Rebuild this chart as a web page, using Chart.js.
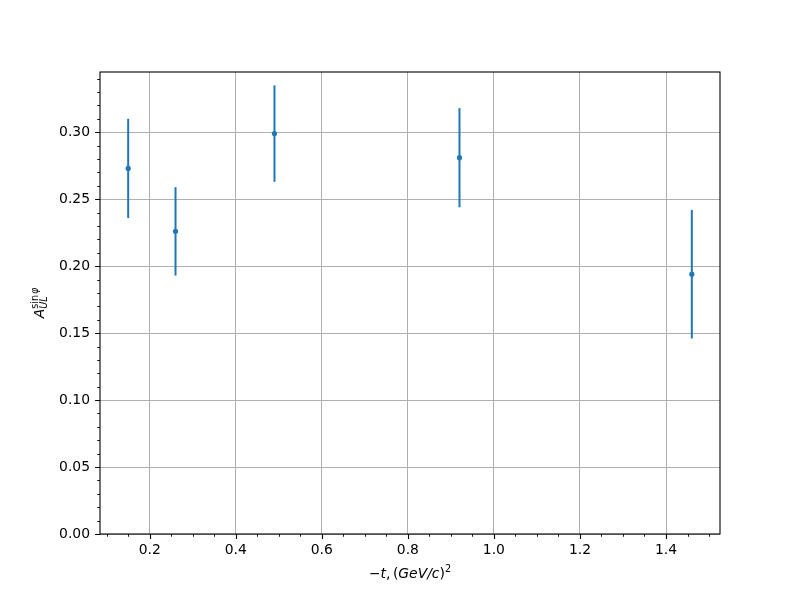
<!DOCTYPE html>
<html>
<head>
<meta charset="utf-8">
<script src="https://cdn.jsdelivr.net/npm/chart.js@4.4.1/dist/chart.umd.min.js"></script>
<style>
  html, body { margin: 0; padding: 0; background: #fff; }
  #wrap { width: 800px; height: 600px; }
</style>
</head>
<body>
<div id="wrap"><canvas id="chart" width="800" height="600"></canvas></div>
<script>
'use strict';

// -t values and asymmetry
const tValues = [0.15, 0.26, 0.49, 0.92, 1.46];
const asymValues = [0.273, 0.226, 0.299, 0.281, 0.194];
const asymErrors = [0.037, 0.033, 0.036, 0.037, 0.048];

const xMajorTicks = [0.2, 0.4, 0.6, 0.8, 1.0, 1.2, 1.4];
const xMinorTicks = [0.1, 0.15, 0.25, 0.3, 0.35, 0.45, 0.5, 0.55, 0.65, 0.7, 0.75,
                     0.85, 0.9, 0.95, 1.05, 1.1, 1.15, 1.25, 1.3, 1.35, 1.45, 1.5];
const yMajorTicks = [0.00, 0.05, 0.10, 0.15, 0.20, 0.25, 0.30];
const yMinorTicks = [0.01, 0.02, 0.03, 0.04, 0.06, 0.07, 0.08, 0.09, 0.11, 0.12, 0.13, 0.14,
                     0.16, 0.17, 0.18, 0.19, 0.21, 0.22, 0.23, 0.24, 0.26, 0.27, 0.28, 0.29,
                     0.31, 0.32, 0.33, 0.34];

const BLUE = '#1f77b4';
const FONT = 'DejaVu Sans';

const points = tValues.map((t, i) => ({ x: t, y: asymValues[i] }));

const errorBars = {
    id: 'errorBars',
    beforeDatasetsDraw(chart) {
        const ctx = chart.ctx;
        const xs = chart.scales.x, ys = chart.scales.y;
        ctx.save();
        ctx.strokeStyle = BLUE;
        ctx.lineWidth = 2;
        tValues.forEach((t, i) => {
            const px = xs.getPixelForValue(t);
            ctx.beginPath();
            ctx.moveTo(px, ys.getPixelForValue(asymValues[i] - asymErrors[i]));
            ctx.lineTo(px, ys.getPixelForValue(asymValues[i] + asymErrors[i]));
            ctx.stroke();
        });
        ctx.restore();
    }
};

// draws a row of text pieces centred on (cx, cy); stacked pieces sit at a fixed x
function drawPieces(ctx, pieces, cx, cy) {
    let width = 0;
    let x = 0;
    pieces.forEach(p => {
        ctx.font = p.font;
        p.w = ctx.measureText(p.text).width;
        if (p.stack !== undefined) { p.x = p.stack; } else { p.x = x; x += p.w + (p.gap || 0); }
        width = Math.max(width, p.x + p.w);
    });
    const start = cx - width / 2;
    pieces.forEach(p => {
        ctx.font = p.font;
        ctx.fillText(p.text, start + p.x, cy + (p.dy || 0));
    });
}

const frameAndLabels = {
    id: 'frameAndLabels',
    afterDraw(chart) {
        const ctx = chart.ctx;
        const a = chart.chartArea;
        const xs = chart.scales.x, ys = chart.scales.y;
        ctx.save();
        ctx.strokeStyle = '#000';
        // ticks
        ctx.lineWidth = 1.1;
        ctx.beginPath();
        xMajorTicks.forEach(v => {
            const p = Math.round(xs.getPixelForValue(v)) + 0.5;
            ctx.moveTo(p, a.bottom); ctx.lineTo(p, a.bottom + 4.9);
        });
        yMajorTicks.forEach(v => {
            const p = Math.round(ys.getPixelForValue(v)) + 0.5;
            ctx.moveTo(a.left, p); ctx.lineTo(a.left - 4.9, p);
        });
        ctx.stroke();
        ctx.lineWidth = 0.9;
        ctx.beginPath();
        xMinorTicks.forEach(v => {
            const p = Math.round(xs.getPixelForValue(v)) + 0.5;
            ctx.moveTo(p, a.bottom); ctx.lineTo(p, a.bottom + 2.8);
        });
        yMinorTicks.forEach(v => {
            const p = Math.round(ys.getPixelForValue(v)) + 0.5;
            ctx.moveTo(a.left, p); ctx.lineTo(a.left - 2.8, p);
        });
        ctx.stroke();
        // frame
        ctx.lineWidth = 1.1;
        ctx.strokeRect(a.left, a.top, a.right - a.left, a.bottom - a.top);

        // x title: −t, (GeV/c)^2
        ctx.fillStyle = '#000';
        ctx.textBaseline = 'alphabetic';
        const reg = '13.9px "' + FONT + '"';
        const ita = 'italic 13.9px "' + FONT + '"';
        const small = '9.7px "' + FONT + '"';
        const smallIta = 'italic 9.7px "' + FONT + '"';
        drawPieces(ctx, [
            { text: '\u2212', font: reg },
            { text: 't', font: ita },
            { text: ',', font: reg, gap: 2.5 },
            { text: '(', font: reg },
            { text: 'GeV/c', font: ita },
            { text: ')', font: reg },
            { text: '2', font: small, dy: -6 }
        ], (a.left + a.right) / 2, 578);

        // y title: A_UL^{sin φ}
        ctx.translate(44, (a.top + a.bottom) / 2);
        ctx.rotate(-Math.PI / 2);
        ctx.font = ita;
        const aw = ctx.measureText('A').width;
        ctx.font = small;
        const sw = ctx.measureText('sin').width;
        drawPieces(ctx, [
            { text: 'A', font: ita },
            { text: 'UL', font: smallIta, dy: 3, stack: aw },
            { text: 'sin', font: small, dy: -6.5, stack: aw },
            { text: '\u03c6', font: smallIta, dy: -6.5, stack: aw + sw + 0.8 }
        ], 0, 0);
        ctx.restore();
    }
};

new Chart(document.getElementById('chart'), {
    type: 'scatter',
    data: {
        datasets: [{
            data: points,
            backgroundColor: BLUE,
            borderWidth: 0,
            pointRadius: 2.6,
            pointHoverRadius: 2.6
        }]
    },
    options: {
        responsive: false,
        animation: false,
        events: [],
        layout: { padding: { left: 0, top: 72, right: 80, bottom: 0 } },
        plugins: { legend: { display: false }, tooltip: { enabled: false } },
        scales: {
            x: {
                type: 'linear',
                min: 0.0845,
                max: 1.5255,
                afterBuildTicks: s => { s.ticks = xMajorTicks.map(v => ({ value: v })); },
                afterFit: s => { s.height = 66; },
                ticks: {
                    callback: v => v.toFixed(1),
                    color: '#000',
                    font: { family: FONT, size: 13.9 },
                    padding: 8,
                    maxRotation: 0,
                    autoSkip: false
                },
                grid: { color: '#b0b0b0', lineWidth: 1, drawTicks: false },
                border: { display: false }
            },
            y: {
                type: 'linear',
                min: 0,
                max: 0.345,
                afterBuildTicks: s => { s.ticks = yMajorTicks.map(v => ({ value: v })); },
                afterFit: s => { s.width = 100; },
                ticks: {
                    callback: v => v.toFixed(2),
                    color: '#000',
                    font: { family: FONT, size: 13.9 },
                    padding: 10,
                    autoSkip: false
                },
                grid: { color: '#b0b0b0', lineWidth: 1, drawTicks: false },
                border: { display: false }
            }
        }
    },
    plugins: [errorBars, frameAndLabels]
});
</script>
</body>
</html>
